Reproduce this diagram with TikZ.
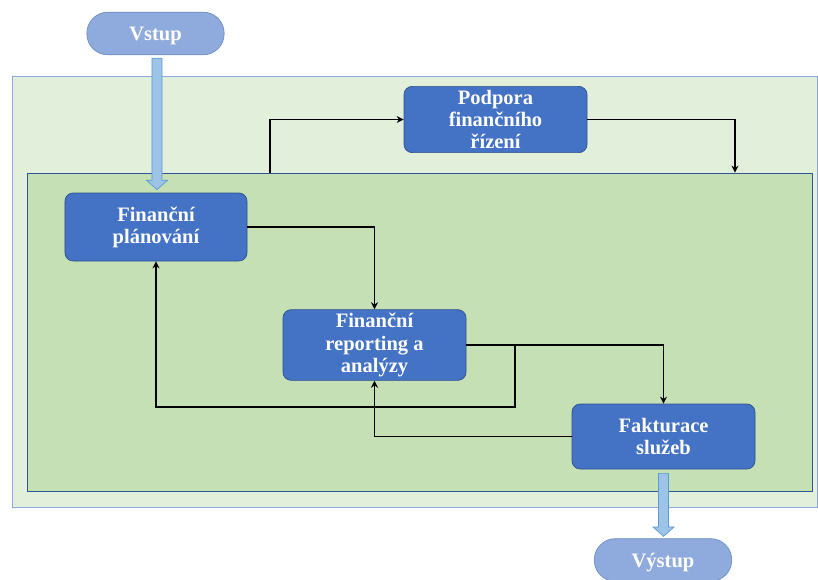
\documentclass[tikz,border=0pt]{standalone}
\usepackage{fontspec}
\setmainfont{Liberation Serif}
\usetikzlibrary{calc,arrows.meta}
\definecolor{boxblue}{HTML}{4472C4}
\definecolor{boxline}{HTML}{2F528F}
\definecolor{pillblue}{HTML}{8FAADC}
\definecolor{pillline}{HTML}{6C8EBF}
\definecolor{outergreen}{HTML}{E2EFDA}
\definecolor{outerline}{HTML}{8EA9DB}
\definecolor{innergreen}{HTML}{C5E0B4}
\definecolor{innerline}{HTML}{2F5597}
\definecolor{arrowfill}{HTML}{9DC3E6}
\definecolor{arrowline}{HTML}{5B9BD5}

\newcommand\blockarrow[2]{%
  \draw[barrow] let \p1=(#1), \p2=(#2) in
    (\x1-4.3pt,\y1) -- (\x1-4.3pt,\y2+8pt) -- (\x1-9pt,\y2+8pt) -- (\x1,\y2)
    -- (\x1+9pt,\y2+8pt) -- (\x1+4.3pt,\y2+8pt) -- (\x1+4.3pt,\y1) -- cycle;}

\begin{document}
\begin{tikzpicture}[
  x=0.03cm, y=-0.03cm,
  every node/.style={font=\fontsize{17.5}{18.8}\selectfont\bfseries, text=white, align=center},
  step box/.style={draw=boxline, fill=boxblue, rounded corners=7pt, line width=0.6pt},
  pill/.style={draw=pillline, fill=pillblue, rounded corners=18pt, line width=0.6pt,
    minimum width=4.12cm, minimum height=1.28cm, text depth=0pt},
  link/.style={draw=black, line width=1.4pt, -{Stealth[length=6pt,width=6pt]}},
  barrow/.style={draw=arrowline, fill=arrowfill, line width=0.6pt}
  ]
\useasboundingbox (0,0) rectangle (818,579);
% background areas
\node[draw=outerline, fill=outergreen, line width=0.8pt, minimum width=24.15cm,
  minimum height=12.93cm] (area) at (414.5,291.5) {};
\node[draw=innerline, fill=innergreen, line width=0.6pt, minimum width=23.55cm,
  minimum height=9.54cm] (core) at (419.5,332) {};
% terminals
\node[pill] (vstup) at (155.5,33.5) {Vstup};
\node[pill] (vystup) at (663,560) {Výstup};
% process steps
\node[step box, minimum width=5.46cm, minimum height=2.04cm] (plan) at (156,227)
  {Finanční\\plánování};
\node[step box, minimum width=5.49cm, minimum height=1.95cm] (podpora) at (495.5,119.5)
  {Podpora\\finančního\\řízení};
\node[step box, minimum width=5.49cm, minimum height=2.1cm] (report) at (374.5,345)
  {Finanční\\reporting a\\analýzy};
\node[step box, minimum width=5.49cm, minimum height=1.95cm] (faktura) at (663.5,436.5)
  {Fakturace\\služeb};
% input / output
\blockarrow{$(vstup.south)+(1.5,3)$}{$(plan.north)+(0,-3)$}
\blockarrow{$(faktura.south)+(0,4)$}{$(vystup.north)+(0,-2)$}
% flows
\draw[link] (core.north -| 270,0) |- (podpora.west);
\draw[link] (podpora.east) -| (core.north -| 735,0);
\draw[link] (plan.east) -| (report.north);
\draw[link] (report.east) -| (faktura.north);
\coordinate (split) at (report.east -| 515,0);
\draw[link] (split) -- (515,407) -| (plan.south);
\draw[link] (faktura.west) -| (report.south);
\end{tikzpicture}
\end{document}
